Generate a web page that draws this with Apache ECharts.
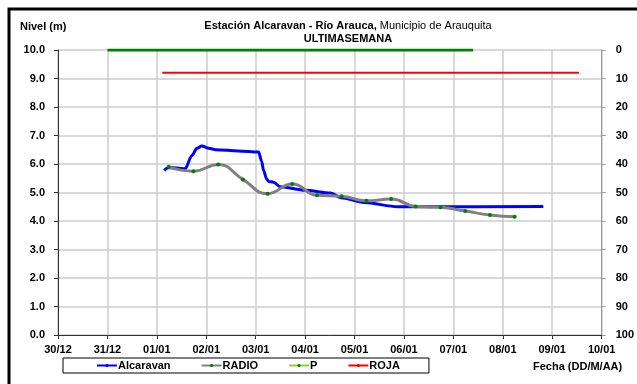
<!DOCTYPE html>
<html><head><meta charset="utf-8">
<script src="https://cdn.jsdelivr.net/npm/echarts@6/dist/echarts.min.js"></script>
<style>html,body{margin:0;padding:0;background:#fff}#c{width:637px;height:384px}</style>
</head><body><div id="c"></div>
<script>
// x in days from 30/12
const xTickLabels = ['30/12','31/12','01/01','02/01','03/01','04/01','05/01','06/01','07/01','08/01','09/01','10/01'];
const alcaravanX = [2.15,2.23,2.41,2.57,2.71,2.81,2.91,3.05,3.19,3.65,4.06,4.12,4.16,4.22,4.26,4.36,4.5,5.0,5.52,5.72,6.2,6.87,7.47,9.82];
const alcaravanY = [5.77,5.87,5.86,5.83,6.3,6.55,6.63,6.55,6.5,6.46,6.42,6.1,5.77,5.48,5.39,5.36,5.2,5.08,4.98,4.82,4.65,4.5,4.5,4.51];
const radioX = [2.24,2.74,3.24,3.74,4.24,4.74,5.24,5.74,6.24,6.74,7.24,7.74,8.24,8.74,9.24];
const radioY = [5.9,5.75,5.98,5.46,4.96,5.3,4.9,4.87,4.71,4.77,4.51,4.48,4.35,4.21,4.15];
const pX = [];
const pY = [];
const rojaX = [2.11,10.54];
const rojaY = [9.2,9.2];
const verdeX = [1,8.4];
const verdeY = [10,10];
const rightTicks = [0,10,20,30,40,50,60,70,80,90,100];

const zip = (a,b)=>a.map((v,i)=>[v,b[i]]);
const F = '"Liberation Sans", Arial, sans-serif';
const chart = echarts.init(document.getElementById('c'));
chart.setOption({
  animation:false,
  textStyle:{fontFamily:F},
  title:{
    text:'{b|Estación Alcaravan - Río Arauca,}{n| Municipio de Arauquita}\n{b|ULTIMASEMANA}',
    left:343, top:14, textAlign:'center',
    textStyle:{rich:{
      b:{fontFamily:F,fontWeight:'bold',fontSize:11,color:'#000',lineHeight:13},
      n:{fontFamily:F,fontWeight:'normal',fontSize:11,color:'#000',lineHeight:13}
    }}
  },
  graphic:[
    {type:'rect',shape:{x:9,y:9,width:700,height:500},style:{fill:'none',stroke:'#000',lineWidth:3},silent:true},
    {type:'text',left:20,top:21,style:{text:'Nivel (m)',font:'bold 11px '+F,fill:'#000'}},
    {type:'text',left:533,top:361,style:{text:'Fecha (DD/M/AA)',font:'bold 11px '+F,fill:'#000'}}
  ],
  legend:{
    data:['Alcaravan','RADIO','P','ROJA'],
    left:63, top:358,
    padding:[2,29,2,33],
    itemGap:30, itemWidth:20, itemHeight:4,
    borderColor:'#000', borderWidth:1, borderRadius:0,
    textStyle:{fontFamily:F,fontWeight:'bold',fontSize:11,color:'#000',padding:[0,0,0,-4]}
  },
  grid:{left:58,right:31,top:50,bottom:49},
  xAxis:{
    type:'value',min:0,max:11,interval:1,
    axisLine:{lineStyle:{color:'#333',width:1}},
    axisTick:{show:true,length:4,lineStyle:{color:'#333'}},
    axisLabel:{fontFamily:F,fontWeight:'bold',fontSize:11,color:'#000',margin:9,
      formatter:v=>xTickLabels[Math.round(v)]},
    splitLine:{show:true,lineStyle:{color:'#cccccc',width:1.5}}
  },
  yAxis:[{
    type:'value',min:0,max:10,interval:1,
    axisLine:{show:true,lineStyle:{color:'#333',width:1}},
    axisTick:{show:true,length:4,lineStyle:{color:'#333'}},
    axisLabel:{fontFamily:F,fontWeight:'bold',fontSize:11,color:'#000',margin:13,formatter:v=>v.toFixed(1)},
    splitLine:{show:true,lineStyle:{color:'#cccccc',width:1.5}}
  },{
    type:'value',min:0,max:100,interval:10,inverse:true,position:'right',
    axisLine:{show:true,lineStyle:{color:'#999',width:1}},
    axisTick:{show:true,length:4,lineStyle:{color:'#999'}},
    axisLabel:{fontFamily:F,fontWeight:'bold',fontSize:11,color:'#000',margin:14,
      formatter:v=>String(rightTicks[Math.round(v/10)])},
    splitLine:{show:false}
  }],
  series:[
    {name:'VERDE',type:'line',data:zip(verdeX,verdeY),symbol:'none',lineStyle:{color:'#008000',width:3},itemStyle:{color:'#008000'},z:3},
    {name:'ROJA',type:'line',data:zip(rojaX,rojaY),symbol:'none',lineStyle:{color:'#ff0000',width:2},itemStyle:{color:'#ff0000'}},
    {name:'Alcaravan',type:'line',data:zip(alcaravanX,alcaravanY),symbol:'none',smooth:0.3,smoothMonotone:'x',
      lineStyle:{color:'#0000ff',width:3},itemStyle:{color:'#0000ff'},z:4},
    {name:'RADIO',type:'line',data:zip(radioX,radioY),symbol:'circle',symbolSize:4,smooth:0.5,
      lineStyle:{color:'#808080',width:3},itemStyle:{color:'#008000'},z:5},
    {name:'P',type:'line',data:zip(pX,pY),symbol:'circle',symbolSize:4,
      lineStyle:{color:'#99cc33',width:2},itemStyle:{color:'#008000'}}
  ]
});
</script></body></html>
